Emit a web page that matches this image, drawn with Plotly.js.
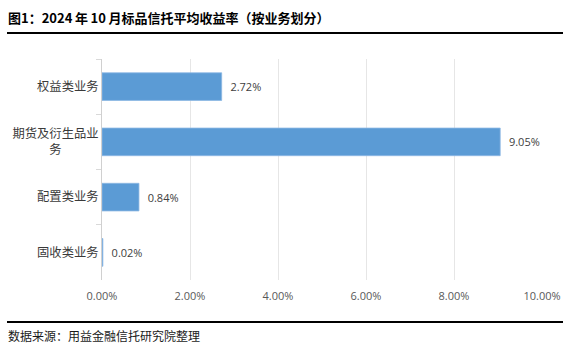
<!DOCTYPE html>
<html>
<head>
<meta charset="utf-8">
<script src="https://cdn.plot.ly/plotly-3.0.1.min.js"></script>
<style>
html,body{margin:0;padding:0;background:#fff;}
#chart{width:571px;height:355px;}
</style>
</head>
<body>
<div id="chart"></div>
<script>
const categories = ['权益类业务', '期货及衍生品业<br>务\u3000\u3000\u3000', '配置类业务', '固收类业务'];
const yieldValues = [0.0272, 0.0905, 0.0084, 0.0002];
const xTickVals = [0, 0.02, 0.04, 0.06, 0.08, 0.10];
const chartTitle = '图1：2024\u2009年\u200910\u2009月标品信托平均收益率（按业务划分）';
const sourceNote = '数据来源：用益金融信托研究院整理';

const W = 571, H = 355;
const M = {l: 102, r: 29, t: 59, b: 75};
const pw = W - M.l - M.r, ph = H - M.t - M.b;
const px = x => (x - M.l) / pw;
const py = y => (H - M.b - y) / ph;

const trace = {
  type: 'bar',
  orientation: 'h',
  y: categories,
  x: yieldValues,
  width: 0.5,
  marker: {color: '#5B9BD5', line: {color: '#8DB8E3', width: 0.8}},
  text: yieldValues.map(v => '\u00a0\u00a0' + (v * 100).toFixed(2) + '%'),
  textposition: 'outside',
  textfont: {family: 'Open Sans, Noto Sans, sans-serif', size: 11, color: '#404040'},
  cliponaxis: false,
  hoverinfo: 'none'
};

const layout = {
  width: W, height: H,
  margin: M,
  paper_bgcolor: '#fff', plot_bgcolor: '#fff',
  showlegend: false,
  font: {family: 'Noto Sans CJK SC, sans-serif'},
  xaxis: {
    range: [0, 0.1],
    tickvals: xTickVals,
    tickformat: '.2%',
    showgrid: true, gridcolor: '#e6e6e6', gridwidth: 1,
    zeroline: false, showline: false,
    ticks: '',
    ticklabelstandoff: 8,
    tickfont: {family: 'Open Sans, Noto Sans, sans-serif', size: 11, color: '#595959'},
    fixedrange: true
  },
  yaxis: {
    type: 'category',
    autorange: 'reversed',
    showline: true, linecolor: '#d0d0d0', linewidth: 1,
    ticks: 'outside', tickson: 'boundaries', ticklen: 5, tickcolor: '#d9d9d9',
    showgrid: false, zeroline: false,
    tickfont: {family: 'Noto Sans CJK SC, sans-serif', size: 12.3, color: '#3a3a3a'},
    fixedrange: true
  },
  shapes: [
    {type: 'line', xref: 'paper', yref: 'paper', x0: px(7), x1: px(563), y0: py(33), y1: py(33),
     line: {color: '#000', width: 2}},
    {type: 'line', xref: 'paper', yref: 'paper', x0: px(7), x1: px(563), y0: py(322), y1: py(322),
     line: {color: '#000', width: 2}}
  ],
  annotations: [
    {text: '<b>' + chartTitle + '</b>', xref: 'paper', yref: 'paper', x: px(6), y: py(17),
     xanchor: 'left', yanchor: 'middle', showarrow: false,
     font: {family: 'Noto Sans CJK SC, sans-serif', size: 13, color: '#000'}},
    {text: sourceNote, xref: 'paper', yref: 'paper', x: px(6), y: py(335),
     xanchor: 'left', yanchor: 'middle', showarrow: false,
     font: {family: 'Noto Sans CJK SC, sans-serif', size: 12, color: '#1a1a1a'}}
  ]
};

Plotly.newPlot('chart', [trace], layout, {staticPlot: true, displayModeBar: false});
</script>
</body>
</html>
